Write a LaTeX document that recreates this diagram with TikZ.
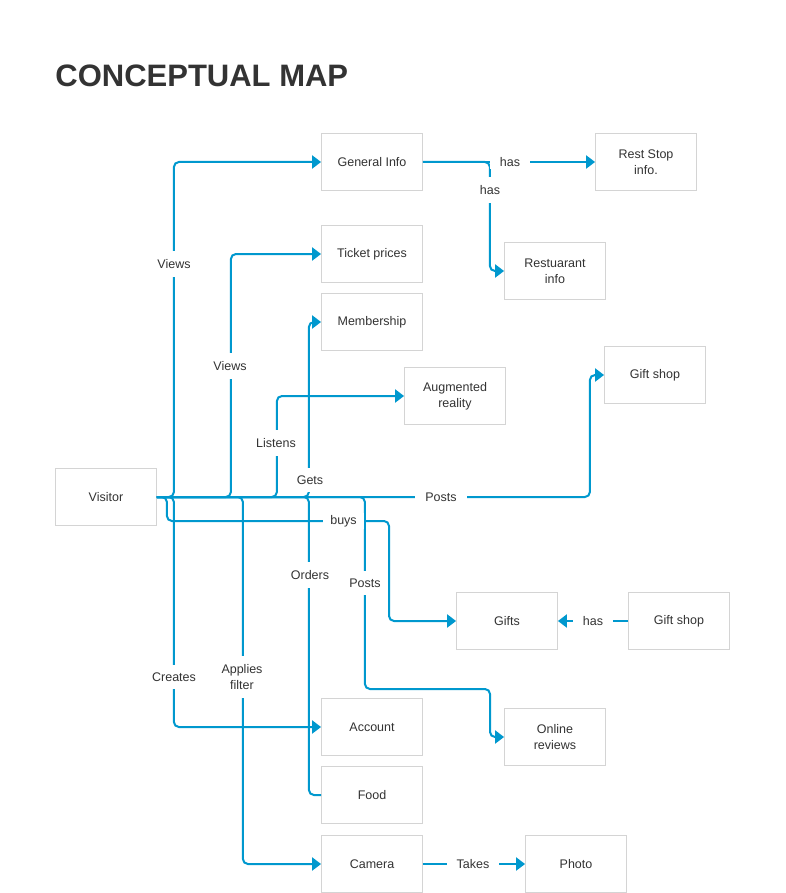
\documentclass[tikz,border=0pt]{standalone}
\usepackage{fontspec}
\setmainfont{Liberation Sans}
\usepackage{xcolor}
\usetikzlibrary{arrows.meta}
\definecolor{MapBlue}{HTML}{0098CE}
\definecolor{BoxGray}{HTML}{D4D4D4}
\definecolor{Ink}{HTML}{333333}
\newcommand{\mapfont}{\fontsize{12.5}{16}\selectfont}
\tikzset{
  every picture/.style={line width=0.8pt},
  mapbox/.style={
    draw=BoxGray,
    fill=white,
    align=center,
    text=Ink,
    font=\mapfont,
    minimum width=101pt,
    minimum height=57pt,
    inner sep=0pt
  },
  link/.style={draw=MapBlue, line width=2pt, rounded corners=5pt},
  flow/.style={link, -{Triangle[length=9pt,width=13pt]}},
  hlabel/.style={fill=white, text=Ink, font=\mapfont, inner xsep=10pt, inner ysep=2pt},
  vlabel/.style={fill=white, text=Ink, font=\mapfont, align=center, inner xsep=3pt, inner ysep=8pt}
}

\begin{document}
\begin{tikzpicture}[x=1pt,y=-1pt]
  \useasboundingbox (0,0) rectangle (786,893);
  \node[anchor=base west, text=Ink, inner sep=0pt, font=\fontsize{31}{36}\selectfont\bfseries] (title) at (55,87) {CONCEPTUAL MAP};

  % boxes
  \node[mapbox] (visitor) at (106,497) {Visitor};
  \node[mapbox] (geninfo) at (372,162) {General Info};
  \node[mapbox] (reststop) at (646,162) {Rest Stop\\info.};
  \node[mapbox] (restaurant) at (555,271) {Restuarant\\info};
  \node[mapbox] (tickets) at (372,254) {Ticket prices};
  \node[mapbox] (membership) at (372,322) {Membership};
  \node[mapbox] (augreal) at (455,396) {Augmented\\reality};
  \node[mapbox] (shoptop) at (655,375) {Gift shop};
  \node[mapbox] (gifts) at (507,621) {Gifts};
  \node[mapbox] (shopright) at (679,621) {Gift shop};
  \node[mapbox] (reviews) at (555,737) {Online\\reviews};
  \node[mapbox] (account) at (372,727) {Account};
  \node[mapbox] (food) at (372,795) {Food};
  \node[mapbox] (camera) at (372,864) {Camera};
  \node[mapbox] (photo) at (576,864) {Photo};

  % connectors from the visitor
  \draw[flow] (visitor.east) -- ++(17,0) |- (geninfo.west);
  \draw[flow] (visitor.east) -- ++(17,0) |- (account.west);
  \draw[flow] (visitor.east) -- ++(74,0) |- (tickets.west);
  \draw[flow] (visitor.east) -- ++(86,0) |- (camera.west);
  \draw[flow] (visitor.east) -- ++(120,0) |- (augreal.west);
  \draw[flow] (visitor.east) -- ++(152,0) |- (membership.west);
  \draw[link] (visitor.east) -- ++(152,0) |- (food.west);
  \draw[flow] (visitor.east) -- ++(208,0) |- (490,689) |- (reviews.west);
  \draw[flow] (visitor.east) -- ++(433,0) |- (shoptop.west);
  \draw[flow] (visitor.east) -- ++(10,0) |- (389,521) |- (gifts.west);

  % other connectors
  \draw[flow] (geninfo.east) -- (reststop.west);
  \draw[flow] (geninfo.east) -- ++(67,0) |- (restaurant.west);
  \draw[flow] (shopright.west) -- (gifts.east);
  \draw[flow] (camera.east) -- (photo.west);

  % labels
  \node[vlabel] (lviewsa) at (174,264) {Views};
  \node[vlabel] (lviewsb) at (230,366) {Views};
  \node[vlabel] (llistens) at (276,443) {Listens};
  \node[vlabel] (lgets) at (310,480) {Gets};
  \node[vlabel] (lorders) at (310,575) {Orders};
  \node[vlabel] (lpostsb) at (365,583) {Posts};
  \node[vlabel] (lcreates) at (174,677) {Creates};
  \node[vlabel] (lfilter) at (242,677) {Applies\\filter};
  \node[vlabel] (lhasb) at (490,190) {has};
  \node[hlabel] (lpostsa) at (441,497) {Posts};
  \node[hlabel, inner xsep=7pt] (lbuys) at (343.5,521) {buys};
  \node[hlabel] (lhasa) at (510,162) {has};
  \node[hlabel] (lhasc) at (593,621) {has};
  \node[hlabel] (ltakes) at (473,864) {Takes};
\end{tikzpicture}
\end{document}
